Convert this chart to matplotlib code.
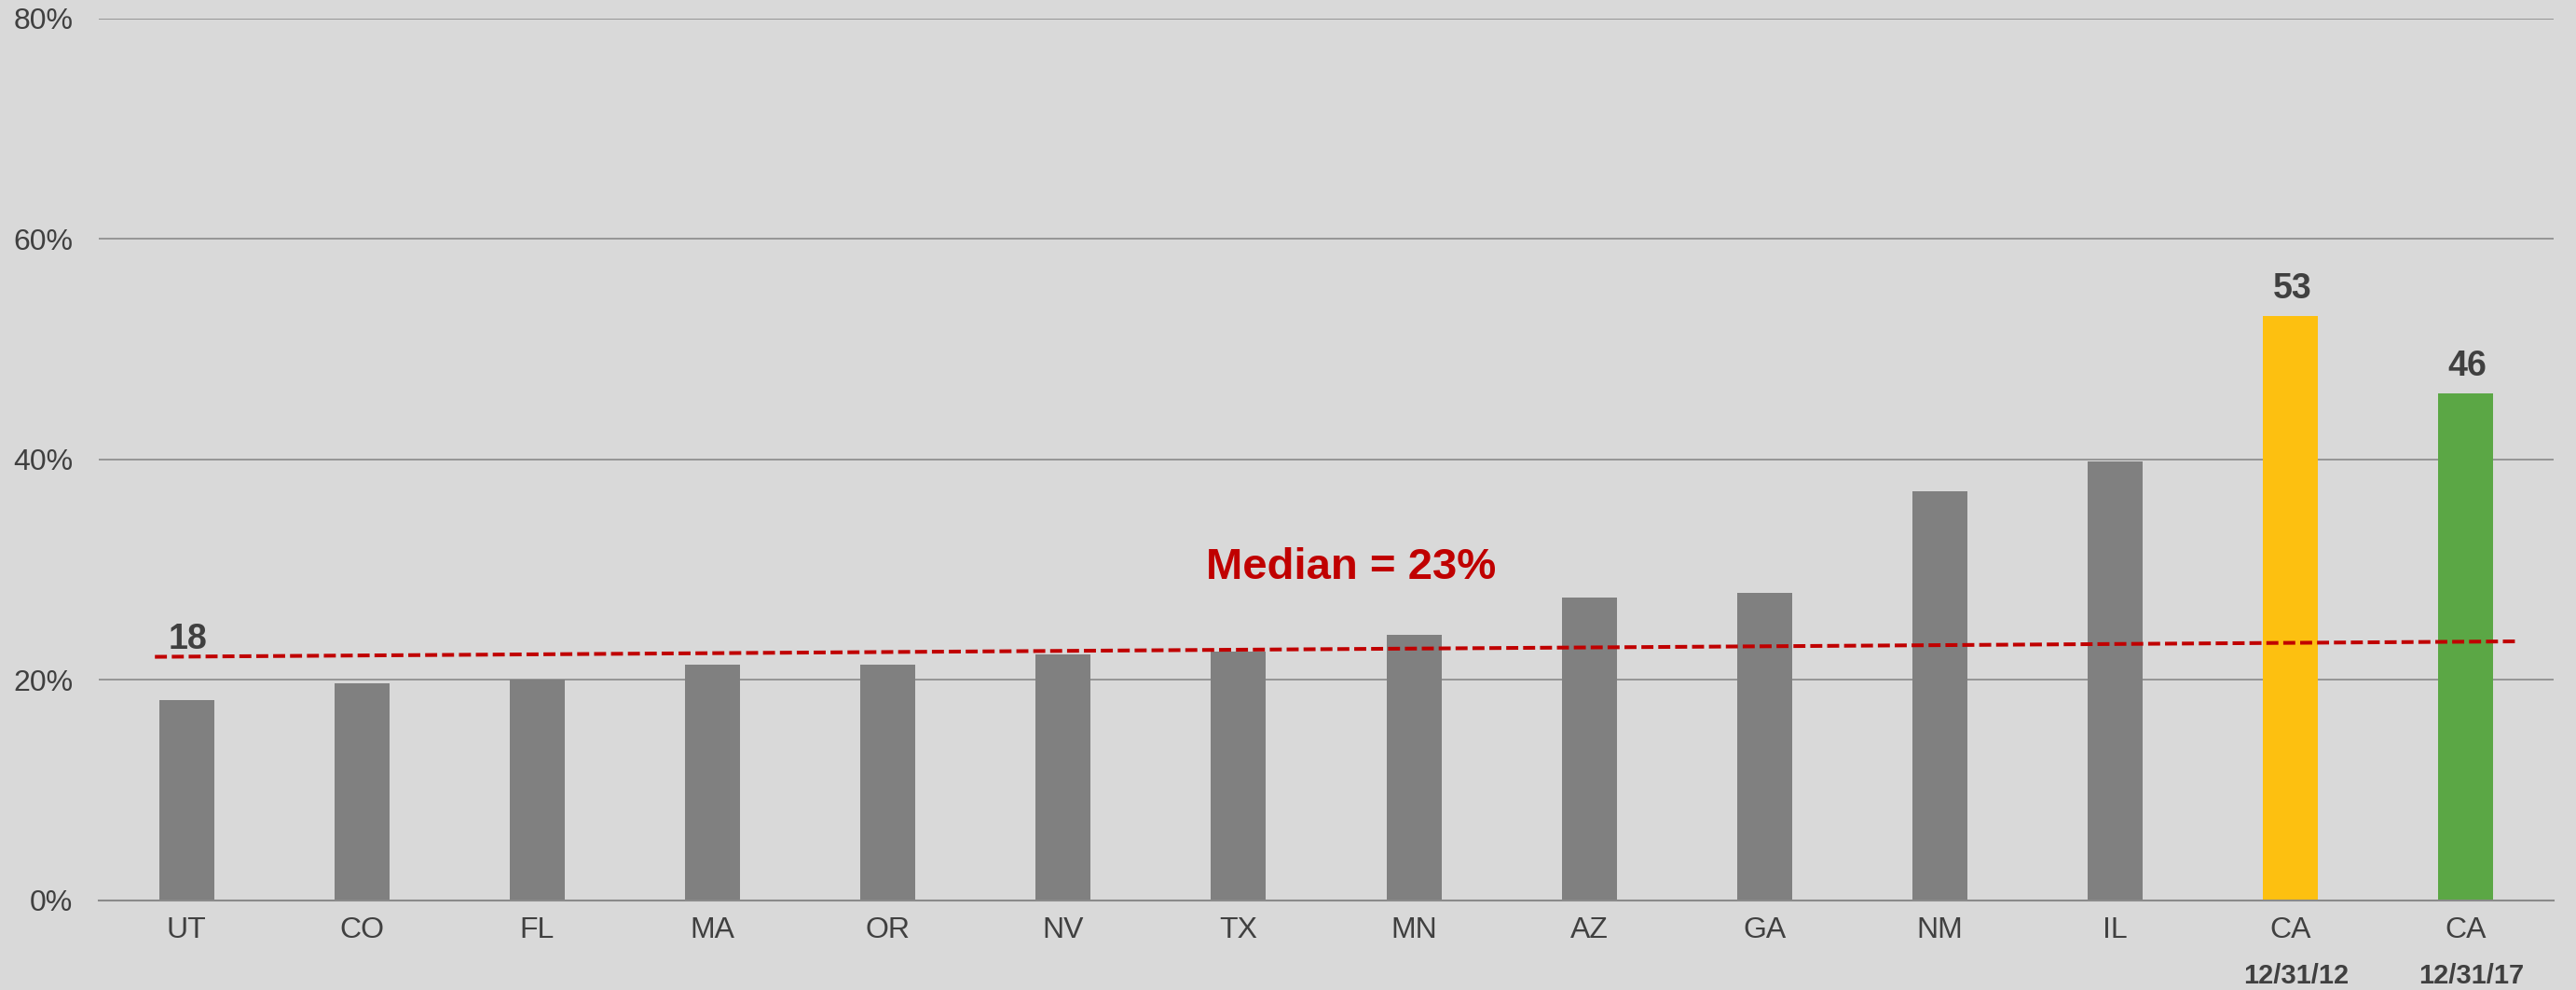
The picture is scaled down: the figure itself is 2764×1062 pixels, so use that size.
import matplotlib.pyplot as plt
import matplotlib.transforms as mtransforms

states = ['UT', 'CO', 'FL', 'MA', 'OR', 'NV', 'TX', 'MN', 'AZ', 'GA', 'NM', 'IL', 'CA', 'CA']
values = [18.2, 19.7, 20.0, 21.4, 21.4, 22.3, 22.6, 24.1, 27.5, 27.9, 37.1, 39.8, 53.0, 46.0]
colors = ['#808080'] * 12 + ['#FDC010', '#5BA745']
date_labels = {12: '12/31/12', 13: '12/31/17'}
value_labels = {0: '18', 12: '53', 13: '46'}
median_x = [-0.18, 13.28]
median_y = [22.1, 23.5]

plt.rcParams['font.family'] = ['Liberation Sans', 'DejaVu Sans']

fig = plt.figure(figsize=(27.64, 10.62), dpi=100, facecolor='#D9D9D9')
ax = fig.add_axes([0.03835, 0.0904, 0.9913 - 0.03835, 0.98145 - 0.0904])
ax.set_facecolor('#D9D9D9')

x = list(range(len(states)))
ax.bar(x, values, width=0.314, color=colors, zorder=2)

ax.set_xlim(-0.5, 13.5)
ax.set_ylim(0, 80)
ax.set_yticks([0, 20, 40, 60, 80])
ax.set_yticklabels(['0%', '20%', '40%', '60%', '80%'])
ax.set_xticks(x)
ax.set_xticklabels(states)
ax.tick_params(axis='both', length=0, labelsize=23, colors='#404040')
ax.tick_params(axis='x', pad=12)
ax.tick_params(axis='y', pad=20)
ax.grid(axis='y', color='#8A8A8A', linewidth=1.2, zorder=0)
ax.set_axisbelow(True)
for s in ['top', 'right', 'left']:
    ax.spines[s].set_visible(False)
ax.spines['bottom'].set_color('#8A8A8A')
ax.spines['bottom'].set_linewidth(1.5)

# median line
ax.plot(median_x, median_y, color='#C00000', linewidth=2.9, dashes=(3.2, 1.3), zorder=3)
ax.text(6.64, 29.2, 'Median = 23%', color='#C00000', fontsize=34,
        fontweight='bold', ha='center', va='baseline', zorder=4)

# value labels
for i, lab in value_labels.items():
    if i == 0:
        y = 22.8
    else:
        y = values[i] + 1.6
    ax.text(i + 0.01, y, lab, ha='center', va='baseline', fontsize=27,
            fontweight='bold', color='#404040', zorder=4)

trans = mtransforms.blended_transform_factory(ax.transData, ax.transAxes)
for i, lab in date_labels.items():
    ax.text(i + 0.03, -0.0856, lab, transform=trans, ha='center', va='center',
            fontsize=21, fontweight='bold', color='#404040', clip_on=False)

fig.savefig('out.png', dpi=100, facecolor=fig.get_facecolor())
